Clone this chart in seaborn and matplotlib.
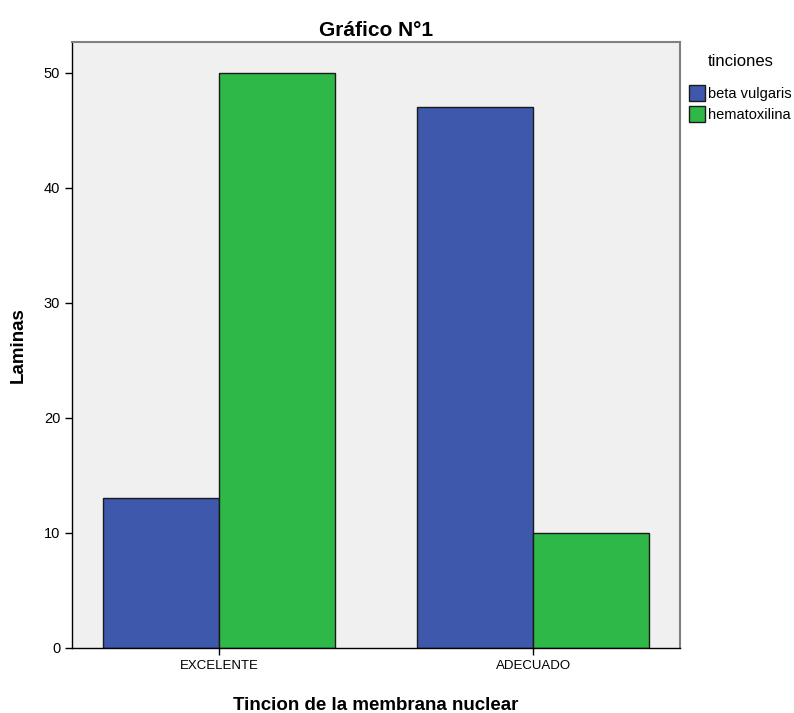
import pandas as pd
import seaborn as sns
import matplotlib.pyplot as plt

categorias = ['EXCELENTE', 'EXCELENTE', 'ADECUADO', 'ADECUADO']
tinciones = ['beta vulgaris', 'hematoxilina', 'beta vulgaris', 'hematoxilina']
laminas = [13, 50, 47, 10]

df = pd.DataFrame({'Tincion': categorias, 'tinciones': tinciones, 'Laminas': laminas})

sns.set_style('white')
plt.rcParams['font.family'] = ['Liberation Sans', 'DejaVu Sans']
plt.rcParams['text.color'] = 'black'
plt.rcParams['axes.labelcolor'] = 'black'
plt.rcParams['xtick.color'] = 'black'
plt.rcParams['ytick.color'] = 'black'

fig = plt.figure(figsize=(7.94, 7.13), dpi=100)
ax = fig.add_axes([0.0907, 0.0912, 0.766, 0.85])
ax.set_facecolor('#F0F0F0')

sns.barplot(data=df, x='Tincion', y='Laminas', hue='tinciones',
            palette=['#3E58AC', '#2EB848'], width=0.74, edgecolor='#1a1a1a',
            linewidth=1, saturation=1, ax=ax)

ax.set_xlim(-0.468, 1.468)
ax.set_ylim(0, 52.7)
ax.set_yticks([0, 10, 20, 30, 40, 50])
ax.tick_params(axis='both', direction='out', length=5, width=1, color='black',
               labelsize=9.5, bottom=True, left=True)
ax.tick_params(axis='y', labelsize=10.5)

for s in ['left', 'bottom']:
    ax.spines[s].set_color('black')
    ax.spines[s].set_linewidth(1)
for s in ['top', 'right']:
    ax.spines[s].set_color('#808080')
    ax.spines[s].set_linewidth(1.5)

ax.set_title('Gráfico N°1', fontsize=15, fontweight='bold', pad=4)
ax.set_xlabel('Tincion de la membrana nuclear', fontsize=13.5, fontweight='bold', labelpad=18)
ax.set_ylabel('Laminas', fontsize=13.5, fontweight='bold', labelpad=12)

leg = ax.legend(title='tinciones', loc='upper left', bbox_to_anchor=(1.0, 0.995),
                frameon=False, fontsize=10.5, title_fontsize=12,
                handlelength=1.1, handleheight=1.3, handletextpad=0.2,
                borderaxespad=0.2, labelspacing=0.35)
leg.get_title().set_color('black')
leg._legend_box.sep = 12

fig.savefig('out.png', dpi=100)
